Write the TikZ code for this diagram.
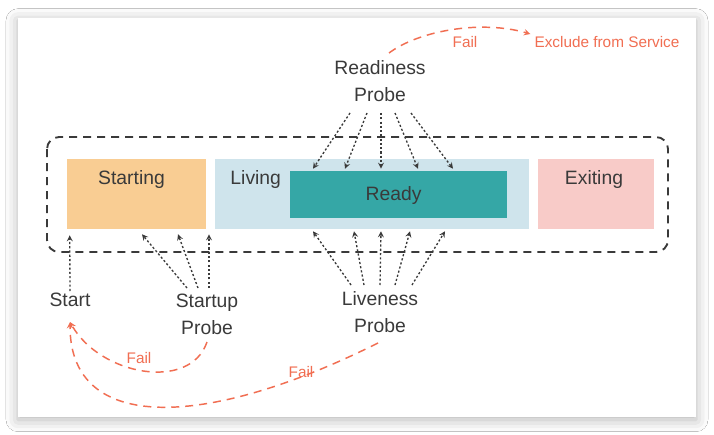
\documentclass[tikz,border=0pt]{standalone}
\usepackage{fontspec}
\setmainfont{Liberation Sans}
\usetikzlibrary{positioning, arrows.meta, calc, shadows.blur}
\definecolor{txtgray}{RGB}{58,58,58}
\definecolor{startorange}{RGB}{249,205,147}
\definecolor{liveblue}{RGB}{207,228,236}
\definecolor{readyteal}{RGB}{53,167,166}
\definecolor{exitpink}{RGB}{248,203,200}
\definecolor{failred}{RGB}{241,110,82}
\tikzstyle{stagebox} = [rectangle, inner sep=0pt, minimum height=52.5pt]
\tikzstyle{stagetext} = [text=txtgray, inner sep=0pt, font=\fontsize{14.5}{20.25}\selectfont, align=center]
\tikzstyle{lifeframe} = [draw=txtgray, line width=1.4pt, rounded corners=9pt, dash pattern=on 6pt off 4.5pt]
\tikzstyle{probearrow} = [->, >=stealth, draw=txtgray, line width=1pt, dash pattern=on 1.6pt off 1.6pt]
\tikzstyle{failarrow} = [->, >=stealth, draw=failred, line width=1.1pt, dash pattern=on 6pt off 4.5pt]
\tikzstyle{failtext} = [text=failred, inner sep=0pt, font=\fontsize{11.5}{13}\selectfont]

\begin{document}
\begin{tikzpicture}[x=0.75pt, y=-0.75pt]
        \useasboundingbox (0,0) rectangle (714,435);
        \fill[white] (0,0) rectangle (714,435);
        \fill[white, blur shadow={shadow xshift=0pt, shadow yshift=-2pt, shadow blur radius=9pt, shadow opacity=30}] (18,18) rectangle (696,417);
        \draw[lifeframe] (47,137) rectangle (668,252);
        % stages
        \node (starting) [stagebox, fill=startorange, minimum width=104.25pt] at (136.5,194) {};
        \node (living) [stagebox, fill=liveblue, minimum width=235.5pt] at (372,194) {};
        \node (ready) [stagebox, fill=readyteal, minimum width=162.75pt, minimum height=35.25pt] at (398.5,194.5) {};
        \node (exiting) [stagebox, fill=exitpink, minimum width=87pt] at (596,194) {};
        \node (startingtxt) [stagetext] at ($(starting.north)+(-5,21)$) {Starting};
        \node (livingtxt) [stagetext] at ($(living.north west)+(41,21)$) {Living};
        \node (readytxt) [stagetext] at ($(ready.center)+(-5,1)$) {Ready};
        \node (exitingtxt) [stagetext] at ($(exiting.north)+(-2,21)$) {Exiting};
        % probes
        \node (rprobe) [stagetext] at (380,81) {Readiness\\Probe};
        \node (lprobe) [stagetext] at (380,312) {Liveness\\Probe};
        \node (sprobe) [stagetext] at (207,314) {Startup\\Probe};
        \node (start) [stagetext] at (70,300) {Start};
        \node (exclude) [failtext] at (607,42) {Exclude from Service};
        \node (failready) [failtext] at (465,42) {Fail};
        \node (failstartup) [failtext] at (139,358) {Fail};
        \node (failliveness) [failtext] at (301,372) {Fail};
        \foreach \s/\e in {-30/-85.5, -13/-53.5, 1/-17.5, 15/19.5, 31/54.5}
            \draw [probearrow] ($(rprobe.center)+(\s,32)$) -- ($(ready.north)+(\e,-2)$);
        \foreach \s/\e in {-29/-59, -16/-18, 0/9, 15/38, 32/73}
            \draw [probearrow] ($(lprobe.center)+(\s,-27)$) -- ($(living.south)+(\e,2)$);
        \foreach \s/\e in {-20/5.5, -9/41.5, 2/72.5}
            \draw [probearrow] ($(sprobe.center)+(\s,-26)$) -- ($(starting.south)+(\e,5)$);
        \draw [probearrow] ($(start.center)+(0,-9)$) -- ($(starting.south west)+(3,6)$);
        % failures
        \draw [failarrow] ($(rprobe.center)+(9,-28)$) .. controls +(31,-23) and +(-48,-14) .. ($(exclude.west)+(-4,-8)$);
        \draw [failarrow] ($(sprobe.center)+(0,28)$) .. controls +(-17,50) and +(30,53) .. ($(start.center)+(0,22)$);
        \draw [failarrow] ($(lprobe.center)+(-2,31)$) .. controls +(-170,85) and +(0,113) .. ($(start.center)+(0,22)$);
    \end{tikzpicture}
\end{document}
